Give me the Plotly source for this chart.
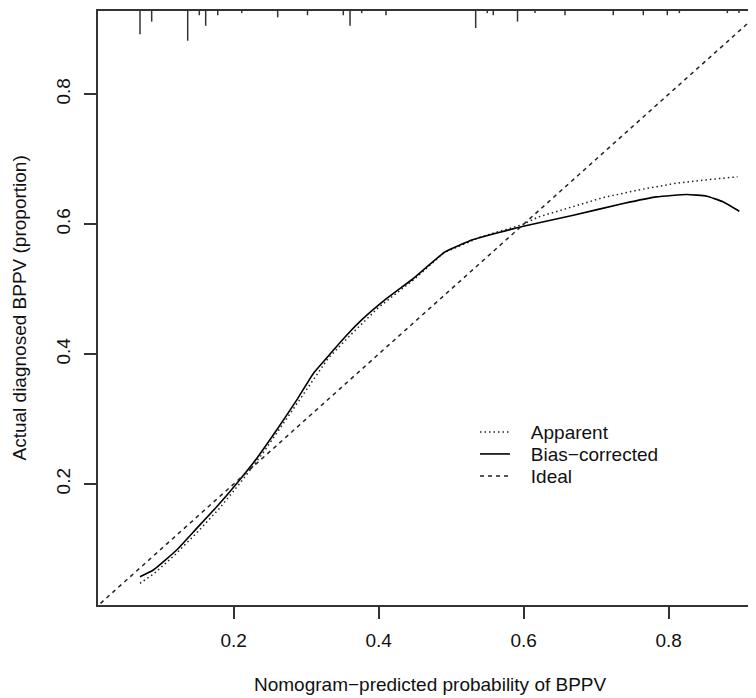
import plotly.graph_objects as go

# ---------------- data ----------------
# Bias-corrected calibration curve
bias_x = [0.0709, 0.0893, 0.1215, 0.1491, 0.1767, 0.2043, 0.2319, 0.2594, 0.2870,
          0.3100, 0.3238, 0.3375, 0.3582, 0.3789, 0.4112, 0.4479, 0.4916, 0.5306,
          0.5996, 0.6686, 0.7375, 0.7836, 0.8250, 0.8526, 0.8755, 0.8976]
bias_y = [0.0574, 0.0677, 0.0985, 0.1318, 0.1651, 0.2010, 0.2395, 0.2831, 0.3292,
          0.3703, 0.3882, 0.4060, 0.4318, 0.4549, 0.4857, 0.5164, 0.5574, 0.5764,
          0.5969, 0.6138, 0.6318, 0.6420, 0.6457, 0.6431, 0.6343, 0.6200]

# Apparent calibration curve
app_x = [0.0709, 0.09, 0.12, 0.15, 0.18, 0.21, 0.24, 0.27, 0.30, 0.33, 0.36, 0.40,
         0.45, 0.49, 0.54, 0.60, 0.62, 0.67, 0.71, 0.76, 0.81, 0.85, 0.895]
app_y = [0.0472, 0.062, 0.092, 0.126, 0.162, 0.203, 0.247, 0.295, 0.345, 0.393, 0.428,
         0.472, 0.516, 0.556, 0.580, 0.600, 0.611, 0.627, 0.641, 0.653, 0.663, 0.668, 0.673]

# Ideal line (y = x)
ideal_x = [0.0, 1.0]
ideal_y = [0.0, 1.0]

# Distribution of predicted probabilities (rug at top): positions and frequencies
rug_x = [0.0709, 0.0870, 0.1367, 0.1527, 0.1615, 0.1781, 0.2112, 0.2608, 0.3019,
         0.3513, 0.3606, 0.3767, 0.4102, 0.5339, 0.5499, 0.5582, 0.5916, 0.6157,
         0.6571, 0.7237, 0.7651, 0.7982, 0.8148, 0.8810, 0.8971]
rug_freq = [11, 5, 14, 2, 7, 2, 1, 3, 2, 2, 7, 1, 2, 8, 1, 2, 5, 1, 2, 2, 2, 2, 1, 1, 1]

tick_vals = [0.2, 0.4, 0.6, 0.8]
tick_text = ["0.2", "0.4", "0.6", "0.8"]

x_title = "Nomogram\u2212predicted probability of BPPV"
y_title = "Actual diagnosed BPPV (proportion)"
legend_names = ["Apparent", "Bias\u2212corrected", "Ideal"]

# ---------------- layout constants ----------------
# page body has an 8px margin, so the figure is 748x690 and sits at (8, 8)
X_RANGE = [0.01297, 0.92055]
Y_RANGE = [0.01385, 0.92815]
FONT = "Liberation Sans, Arial, sans-serif"
FS = 19
AX = "#333333"
PW = 658.0     # plot area width (px)
PH = 594.3     # plot area height (px)
PL, PT = 98.0, 10.7  # plot-area left/top in screenshot px


def px(sx):
    return (sx - PL) / PW


def py(sy):
    return 1 - (sy - PT) / PH


# rug segments hanging from the top of the plot region
rug_unit = 0.05 * (Y_RANGE[1] - Y_RANGE[0]) / max(rug_freq)
rx, ry = [], []
for xv, f in zip(rug_x, rug_freq):
    rx += [xv, xv, None]
    ry += [Y_RANGE[1], Y_RANGE[1] - f * rug_unit, None]

pad = "\u00a0\u00a0\u00a0"

fig = go.Figure()
fig.add_trace(go.Scatter(x=app_x, y=app_y, mode="lines", name=pad + legend_names[0],
                         legend="legend",
                         line=dict(color="#222222", width=1.5, dash="1.5px,3px")))
fig.add_trace(go.Scatter(x=bias_x, y=bias_y, mode="lines", name=pad + legend_names[1],
                         legend="legend2",
                         line=dict(color="#000000", width=1.6, shape="spline", smoothing=0.4)))
fig.add_trace(go.Scatter(x=ideal_x, y=ideal_y, mode="lines", name=pad + legend_names[2],
                         legend="legend3",
                         line=dict(color="#222222", width=1.5, dash="4px,4px")))
fig.add_trace(go.Scatter(x=rx, y=ry, mode="lines", showlegend=False,
                         line=dict(color=AX, width=1.5), hoverinfo="skip"))

leg_common = dict(xanchor="left", yanchor="top", bgcolor="rgba(0,0,0,0)",
                  borderwidth=0, font=dict(size=FS))

fig.update_layout(
    width=748, height=690,
    margin=dict(l=PL - 8, r=0, t=PT - 8, b=690 - (PT - 8) - PH),
    paper_bgcolor="white", plot_bgcolor="white",
    font=dict(family=FONT, size=FS, color="#111111"),
    showlegend=True,
    legend=dict(x=px(475), y=py(413), **leg_common),
    legend2=dict(x=px(475), y=py(435), **leg_common),
    legend3=dict(x=px(475), y=py(457), **leg_common),
    xaxis=dict(range=X_RANGE, tickvals=tick_vals, ticktext=tick_text,
               showgrid=False, zeroline=False, showline=True, linecolor=AX, linewidth=1.5,
               mirror=True, ticks="outside", ticklen=12, tickwidth=1.5, tickcolor=AX,
               ticklabelstandoff=5),
    yaxis=dict(range=Y_RANGE, tickvals=tick_vals, ticktext=tick_text, tickangle=-90,
               showgrid=False, zeroline=False, showline=True, linecolor=AX, linewidth=1.5,
               mirror=False, ticks="outside", ticklen=12, tickwidth=1.5, tickcolor=AX,
               ticklabelstandoff=7),
    annotations=[
        dict(text=x_title, xref="paper", yref="paper", x=px(431),
             y=py(685), xanchor="center", yanchor="middle",
             showarrow=False, font=dict(size=FS)),
        dict(text=y_title, xref="paper", yref="paper", x=px(18.5), y=0.5,
             xanchor="center", yanchor="middle", textangle=-90, borderpad=0,
             showarrow=False, font=dict(size=FS)),
    ],
)

fig.write_html("out.html")
